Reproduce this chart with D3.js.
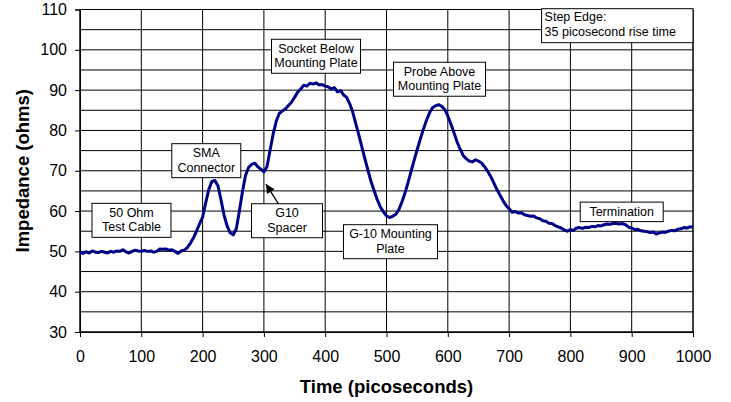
<!DOCTYPE html>
<html><head><meta charset="utf-8">
<script src="https://cdn.jsdelivr.net/npm/d3@7"></script>
<style>
html,body{margin:0;padding:0;background:#fff;}
svg{display:block;font-family:"Liberation Sans",Arial,Helvetica,sans-serif;}
</style></head>
<body><svg id="c" width="731" height="402"></svg>
<script>
const timePs = [0,5,10,15,20,25,30,35,40,45,50,55,60,65,70,75,80,85,90,95,100,105,110,115,120,125,130,135,140,145,150,155,160,165,170,175,180,185,190,195,200,205,210,215,220,225,230,235,240,245,250,255,260,265,270,275,280,285,290,295,300,305,310,315,320,325,330,335,340,345,350,355,360,365,370,375,380,385,390,395,400,405,410,415,420,425,430,435,440,445,450,455,460,465,470,475,480,485,490,495,500,505,510,515,520,525,530,535,540,545,550,555,560,565,570,575,580,585,590,595,600,605,610,615,620,625,630,635,640,645,650,655,660,665,670,675,680,685,690,695,700,705,710,715,720,725,730,735,740,745,750,755,760,765,770,775,780,785,790,795,800,805,810,815,820,825,830,835,840,845,850,855,860,865,870,875,880,885,890,895,900,905,910,915,920,925,930,935,940,945,950,955,960,965,970,975,980,985,990,995,1000];
const impedanceOhms = [49.8,49.5,49.9,49.6,50.1,49.8,49.7,50.0,49.8,49.6,50.0,49.8,50.1,50.0,50.4,49.9,49.6,50.0,50.3,50.1,50.0,50.2,50.0,50.1,49.8,50.0,50.6,50.5,50.6,50.3,50.4,50.0,49.5,50.1,50.3,50.9,52.0,53.3,55.0,56.8,58.5,62.0,65.3,67.3,67.6,66.3,62.8,59.0,56.3,54.6,54.1,55.6,60.0,64.8,68.8,70.8,71.6,71.9,71.0,70.4,69.7,71.0,75.0,79.0,82.2,84.2,84.8,85.3,86.2,87.0,88.2,89.5,90.3,91.2,91.0,91.7,91.5,91.8,91.3,91.4,91.0,90.8,90.3,90.6,89.6,89.9,88.8,88.2,86.6,84.5,81.6,78.8,75.8,72.8,70.0,67.2,65.0,62.8,61.0,59.8,58.8,58.4,58.7,59.2,60.3,62.2,64.4,67.0,69.8,72.6,75.2,77.8,80.2,82.4,84.3,85.6,86.1,86.4,86.0,85.2,83.6,81.6,79.5,77.2,75.4,73.8,73.0,72.4,72.2,72.7,72.4,71.9,71.0,69.9,68.6,67.0,65.4,64.0,62.6,61.4,60.6,59.7,59.9,59.5,59.6,59.1,58.9,58.7,58.8,58.3,58.1,57.6,57.5,57.0,56.9,56.4,56.1,55.8,55.3,55.0,55.4,55.2,55.8,55.9,55.7,56.0,55.9,56.2,56.1,56.4,56.3,56.6,56.8,56.7,57.0,56.9,56.8,56.9,56.6,56.0,55.8,55.4,55.5,55.1,55.0,54.9,54.7,54.8,54.3,54.6,54.8,54.7,55.0,55.2,55.1,55.5,55.6,55.9,55.8,56.1,56.0];
const xTicks = [0,100,200,300,400,500,600,700,800,900,1000];
const yTicks = [30,40,50,60,70,80,90,100,110];
const yGrid = [30,35,40,45,50,55,60,65,70,75,80,85,90,95,100,105,110];
const noteLines = [["50 Ohm","Test Cable"],["SMA","Connector"],["Socket Below","Mounting Plate"],["Probe Above","Mounting Plate"],["G10","Spacer"],["G-10 Mounting","Plate"],["Termination"]];
const noteT = [84, 206, 385, 586.5, 337.7, 506.5, 883.7];
const noteV = [57.7, 72.5, 98.4, 92.7, 57.6, 52.4, 59.8];
const noteW = [79, 69, 89, 92, 71, 94, 83];
const stepNote = ["Step Edge:", "35 picosecond rise time"];

const svg = d3.select("#c");
const x = d3.scaleLinear().domain([0,1000]).range([80,693]);
const y = d3.scaleLinear().domain([30,110]).range([332,9.5]);

// grid
svg.append("g").selectAll("line").data(yGrid).join("line")
  .attr("x1",x(0)).attr("x2",x(1000)).attr("y1",d=>y(d)).attr("y2",d=>y(d))
  .attr("stroke","#000").attr("stroke-width",1);
svg.append("g").selectAll("line").data(xTicks).join("line")
  .attr("x1",d=>x(d)).attr("x2",d=>x(d)).attr("y1",y(30)).attr("y2",y(110))
  .attr("stroke","#000").attr("stroke-width",1);
svg.append("rect").attr("x",x(0)).attr("y",y(110)).attr("width",x(1000)-x(0)).attr("height",y(30)-y(110))
  .attr("fill","none").attr("stroke","#000").attr("stroke-width",1);

// axes
const xa = svg.append("g").attr("transform",`translate(0,${y(30)})`)
  .call(d3.axisBottom(x).tickValues(xTicks).tickSize(5).tickPadding(8).tickFormat(d3.format("d")));
const ya = svg.append("g").attr("transform",`translate(${x(0)},0)`)
  .call(d3.axisLeft(y).tickValues(yTicks).tickSize(5).tickPadding(8).tickFormat(d3.format("d")));
[xa,ya].forEach(a=>{
  a.select(".domain").attr("stroke","#000");
  a.selectAll(".tick line").attr("stroke","#000");
  a.selectAll("text").attr("font-size","16px").attr("fill","#000").attr("font-family","Liberation Sans, Arial, sans-serif");
});
xa.selectAll("text").attr("dy","1.05em");

// titles
svg.append("text").attr("x",(x(0)+x(1000))/2).attr("y",393).attr("text-anchor","middle")
  .attr("font-size","18.5px").attr("font-weight","bold").text("Time (picoseconds)");
svg.append("text").attr("transform",`translate(29,${(y(30)+y(110))/2}) rotate(-90)`).attr("text-anchor","middle")
  .attr("font-size","18.5px").attr("font-weight","bold").text("Impedance (ohms)");

// curve
const line = d3.line().x((d,i)=>x(timePs[i])).y(d=>y(d));
svg.append("path").datum(impedanceOhms).attr("d",line)
  .attr("fill","none").attr("stroke","#000088").attr("stroke-width",3).attr("stroke-linejoin","round");

// arrow
svg.append("defs").append("marker").attr("id","ah").attr("viewBox","0 0 10 10")
  .attr("refX",10).attr("refY",5).attr("markerWidth",11).attr("markerHeight",9).attr("markerUnits","userSpaceOnUse")
  .attr("orient","auto").append("path").attr("d","M0,0L10,5L0,10Z").attr("fill","#000");
svg.append("line").attr("x1",x(334.4)).attr("y1",y(59.2)).attr("x2",x(303.4)).attr("y2",y(66.7))
  .attr("stroke","#000").attr("stroke-width",1.3).attr("marker-end","url(#ah)");

// notes
const lh = 14.5, fs = 12.5;
noteLines.forEach((ls,i)=>{
  const cx = x(noteT[i]), cy = y(noteV[i]);
  const h = ls.length*lh + 5;
  const g = svg.append("g");
  g.append("rect").attr("x",cx-noteW[i]/2).attr("y",cy-h/2).attr("width",noteW[i]).attr("height",h)
    .attr("fill","#fff").attr("stroke","#000").attr("stroke-width",1);
  ls.forEach((t,j)=>{
    g.append("text").attr("x",cx).attr("y",cy-h/2+2.5+lh*(j+1)-3.5).attr("text-anchor","middle")
      .attr("font-size",fs+"px").attr("fill","#000").text(t);
  });
});
// step edge note (top-right corner)
{
  const x0 = x(753), y0 = y(110.2), w = x(1000)-x0, h = 34;
  svg.append("rect").attr("x",x0).attr("y",y0).attr("width",w).attr("height",h)
    .attr("fill","#fff").attr("stroke","#000").attr("stroke-width",1);
  stepNote.forEach((t,j)=>{
    svg.append("text").attr("x",x0+3).attr("y",y0+12.5+15*j).attr("font-size",fs+"px").attr("fill","#000").text(t);
  });
}
</script></body></html>
